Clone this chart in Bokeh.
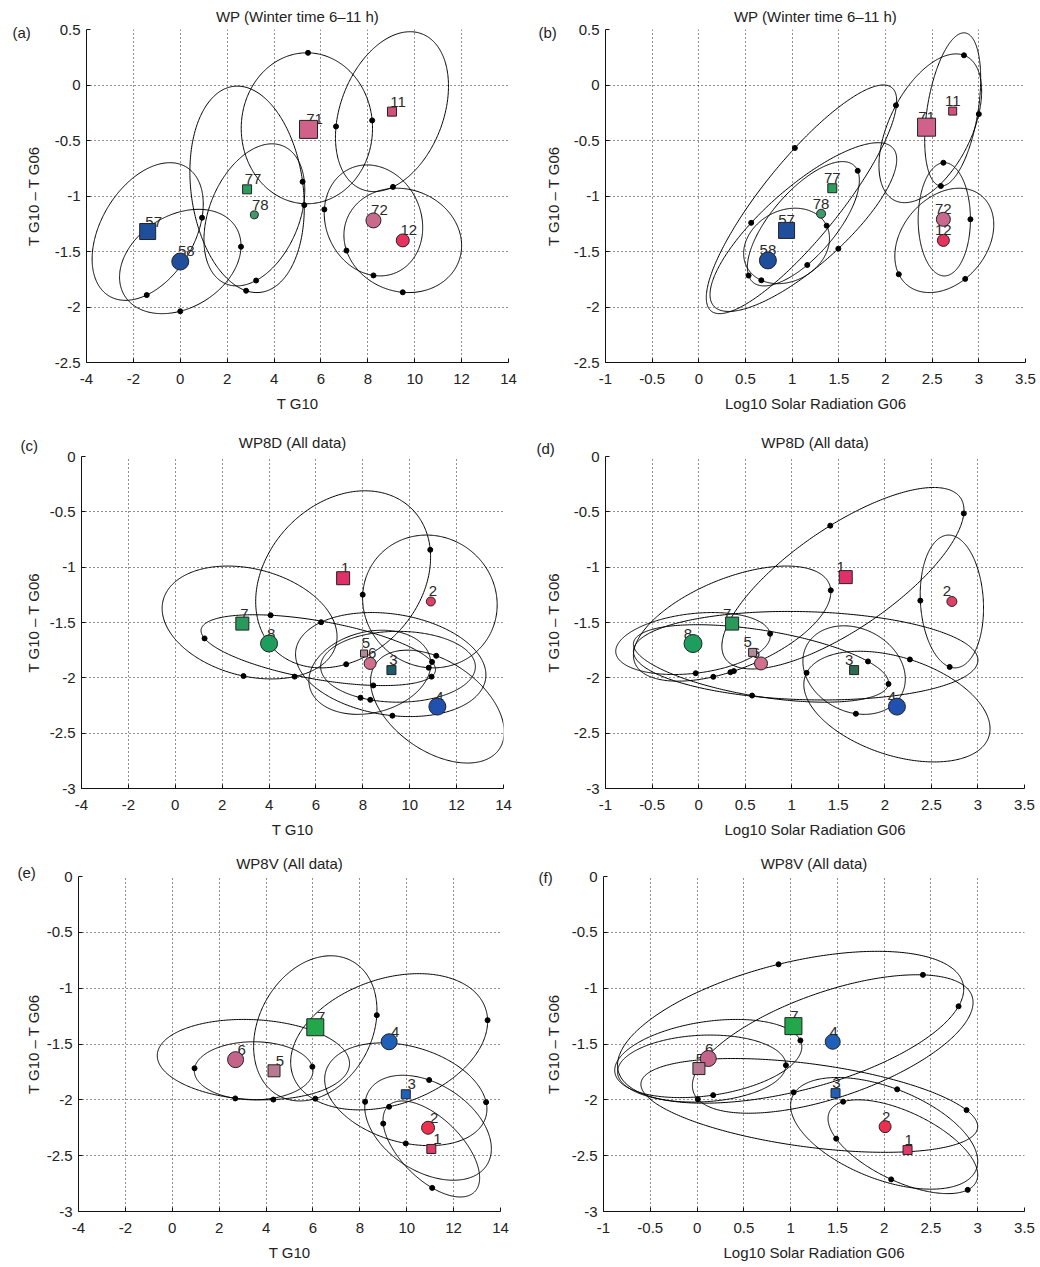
import numpy as np
from bokeh.plotting import figure
from bokeh.layouts import column, row
from bokeh.models import Label, FixedTicker, NumeralTickFormatter, Range1d
from bokeh.embed import file_html
from bokeh.resources import INLINE
from bokeh.core.properties import value

FONT = "Liberation Sans"

# ---------------- tick values ----------------
XT_T = [-4, -2, 0, 2, 4, 6, 8, 10, 12, 14]
XT_S = [-1, -0.5, 0, 0.5, 1, 1.5, 2, 2.5, 3, 3.5]
YT_WP = [-2.5, -2, -1.5, -1, -0.5, 0, 0.5]
YT_8 = [-3, -2.5, -2, -1.5, -1, -0.5, 0]

# ---------------- panel (a) ----------------
a_lab = ["57", "58", "77", "78", "71", "11", "72", "12"]
a_x = [-1.39, 0.0, 2.85, 3.16, 5.47, 9.03, 8.24, 9.49]
a_y = [-1.32, -1.59, -0.94, -1.17, -0.40, -0.24, -1.22, -1.40]
a_ecx = [-1.39, 0.0, 2.85, 3.16, 5.40, 9.03, 8.24, 9.49]
a_ecy = [-1.32, -1.59, -0.94, -1.17, -0.39, -0.24, -1.22, -1.40]
a_erx = [2.37, 2.59, 2.44, 2.15, 2.80, 2.41, 2.10, 2.51]
a_ery = [0.62, 0.47, 0.93, 0.64, 0.68, 0.72, 0.50, 0.47]
a_erho = [0.40, 0.30, -0.17, 0.35, 0.0, 0.32, -0.13, -0.10]
a_dx = [-1.34, 0.01, 0.96, 2.59, 2.79, 3.22, 5.19, 5.29, 5.46, 6.61, 8.36, 6.11, 6.99, 8.22, 9.07, 9.49]
a_dy = [-1.93, -2.05, -1.20, -1.46, -1.86, -1.75, -0.88, -1.09, 0.28, -0.37, -0.32, -1.12, -1.50, -1.72, -0.92, -1.87]

# ---------------- panel (b) ----------------
b_lab = ["57", "58", "77", "78", "71", "11", "72", "12"]
b_x = [0.94, 0.74, 1.43, 1.31, 2.44, 2.72, 2.62, 2.62]
b_y = [-1.31, -1.58, -0.93, -1.16, -0.38, -0.235, -1.21, -1.40]
b_ecx = [1.10, 1.12, 1.12, 0.94, 2.48, 2.72, 2.63, 2.63]
b_ecy = [-1.03, -1.28, -1.25, -1.45, -0.39, -0.22, -1.21, -1.40]
b_erx = [1.02, 1.00, 0.60, 0.46, 0.55, 0.30, 0.28, 0.53]
b_ery = [1.03, 0.76, 0.56, 0.34, 0.67, 0.69, 0.51, 0.47]
b_erho = [0.86, 0.80, 0.70, 0.20, 0.50, 0.40, 0.0, 0.30]
b_dx = [0.98, 2.09, 0.56, 0.51, 0.66, 1.18, 1.38, 1.52, 1.68, 2.83, 3.01, 2.62, 2.59, 2.92, 2.15, 2.87]
b_dy = [-0.52, -0.18, -1.23, -1.72, -1.77, -1.64, -1.26, -1.49, -0.78, 0.25, -0.27, -0.71, -0.93, -1.21, -1.70, -1.76]

# ---------------- panel (c) ----------------
c_lab = ["1", "2", "7", "8", "5", "6", "3", "4"]
c_x = [7.16, 10.90, 2.86, 4.00, 8.05, 8.31, 9.22, 11.18]
c_y = [-1.10, -1.31, -1.51, -1.69, -1.78, -1.87, -1.93, -2.26]
c_ecx = [7.16, 10.86, 3.17, 6.10, 9.19, 8.30, 9.50, 11.18]
c_ecy = [-1.11, -1.31, -1.50, -1.75, -1.88, -1.95, -1.90, -2.26]
c_erx = [3.73, 2.87, 3.73, 5.00, 4.06, 2.60, 3.30, 2.85]
c_ery = [0.80, 0.60, 0.51, 0.32, 0.47, 0.38, 0.32, 0.51]
c_erho = [0.25, -0.05, -0.25, -0.55, -0.20, 0.20, 0.0, -0.45]
c_dx = [10.90, 7.91, 4.04, 6.27, 1.08, 2.83, 7.24, 5.13, 7.95, 8.34, 8.45, 9.26, 10.83, 10.97, 11.01, 11.23]
c_dy = [-0.84, -1.25, -1.41, -1.52, -1.67, -2.03, -1.83, -2.01, -2.13, -2.20, -2.08, -2.35, -1.90, -2.00, -1.85, -1.76]

# ---------------- panel (d) ----------------
d_lab = ["1", "2", "7", "8", "5", "6", "3", "4"]
d_x = [1.58, 2.72, 0.36, -0.06, 0.58, 0.67, 1.67, 2.13]
d_y = [-1.09, -1.31, -1.51, -1.69, -1.77, -1.87, -1.93, -2.26]
d_ecx = [1.55, 2.72, 0.36, -0.06, 1.15, 0.67, 1.67, 2.13]
d_ecy = [-1.10, -1.31, -1.51, -1.69, -1.80, -1.87, -1.93, -2.26]
d_erx = [1.30, 0.34, 1.06, 0.83, 1.85, 1.37, 0.55, 1.00]
d_ery = [0.82, 0.60, 0.52, 0.28, 0.40, 0.35, 0.40, 0.50]
d_erho = [0.75, -0.10, 0.55, 0.25, -0.10, -0.50, -0.20, -0.40]
d_dx = [1.36, 2.95, 1.40, 2.38, 0.77, 2.69, -0.03, 0.38, 0.35, 0.15, 1.17, 1.84, 1.99, 2.27, 1.69, 0.59]
d_dy = [-0.55, -0.52, -1.21, -1.30, -1.60, -1.91, -1.94, -1.94, -1.99, -1.99, -1.96, -1.83, -2.05, -1.83, -2.34, -2.14]

# ---------------- panel (e) ----------------
e_lab = ["6", "5", "7", "4", "3", "2", "1"]
e_x = [2.70, 4.34, 6.10, 9.25, 9.96, 10.91, 11.05]
e_y = [-1.64, -1.74, -1.35, -1.48, -1.95, -2.25, -2.44]
e_ecx = [3.46, 3.47, 6.10, 9.25, 9.96, 10.91, 11.05]
e_ecy = [-1.64, -1.74, -1.36, -1.48, -1.95, -2.25, -2.44]
e_erx = [4.10, 2.53, 2.63, 4.20, 3.46, 2.70, 2.06]
e_ery = [0.36, 0.26, 0.65, 0.61, 0.46, 0.47, 0.43]
e_erho = [-0.10, 0.0, 0.25, 0.30, -0.29, -0.40, -0.60]
e_dx = [1.02, 2.70, 4.30, 6.00, 6.07, 8.81, 13.44, 8.21, 9.30, 9.94, 10.94, 13.44, 9.06, 11.03]
e_dy = [-1.72, -1.99, -2.00, -1.70, -1.97, -1.24, -1.29, -2.02, -2.09, -2.41, -1.83, -2.02, -2.21, -2.81]

# ---------------- panel (f) ----------------
f_lab = ["7", "4", "6", "5", "3", "2", "1"]
f_x = [1.03, 1.45, 0.12, 0.02, 1.48, 2.01, 2.25]
f_y = [-1.34, -1.48, -1.63, -1.72, -1.94, -2.24, -2.45]
f_ecx = [1.00, 1.45, 0.12, 0.05, 1.20, 2.00, 2.20]
f_ecy = [-1.35, -1.50, -1.63, -1.72, -2.05, -2.30, -2.42]
f_erx = [1.85, 1.50, 1.00, 0.90, 1.80, 1.00, 0.80]
f_ery = [0.68, 0.62, 0.35, 0.30, 0.42, 0.50, 0.42]
f_erho = [0.50, 0.60, 0.30, 0.10, -0.45, -0.50, -0.60]
f_dx = [0.89, 2.42, 2.85, 1.08, 0.96, 0.18, 0.02, 1.02, 2.14, 1.57, 2.89, 1.44, 2.10, 2.89]
f_dy = [-0.85, -0.88, -1.19, -1.48, -1.69, -1.97, -1.99, -1.90, -1.90, -2.05, -2.09, -2.38, -2.68, -2.80]

# ---------------- styles (not data) ----------------
BLUE = "#1f4e9c"
a_style = dict(shape=["square", "circle", "square", "circle", "square", "square", "circle", "circle"],
               color=[BLUE, BLUE, "#2e9b5f", "#3f9a6a", "#d0628a", "#d4507a", "#c86a8e", "#e8325e"],
               size=[16, 17, 9, 8, 18, 9, 15, 13])
b_style = dict(shape=a_style["shape"], color=a_style["color"],
               size=[16, 17, 9, 9, 18, 8, 14, 12])
c_style = dict(shape=["square", "circle", "square", "circle", "square", "circle", "square", "circle"],
               color=["#e0306a", "#e04068", "#2a9a5c", "#1e9e5e", "#b08a98", "#d0708e", "#1e5c6a", "#2050b0"],
               size=[13, 9, 13, 17, 7, 12, 9, 17])
d_style = dict(shape=c_style["shape"],
               color=["#e0306a", "#e04068", "#2a9a5c", "#1e9e5e", "#b08a98", "#d0708e", "#2e6a50", "#2050b0"],
               size=[13, 10, 13, 18, 8, 13, 9, 17])
e_style = dict(shape=["circle", "square", "square", "circle", "square", "circle", "square"],
               color=["#c4648a", "#b87a90", "#22a84a", "#2060b8", "#2060b8", "#ee3050", "#e03a6a"],
               size=[16, 12, 17, 16, 9, 13, 9])
f_style = dict(shape=["square", "circle", "circle", "square", "square", "circle", "square"],
               color=["#22a84a", "#2060b8", "#c4648a", "#b87a90", "#2060b8", "#ee3050", "#e03a6a"],
               size=[17, 15, 16, 12, 9, 12, 9])


def ellipse_curve(cx, cy, rx, ry, rho):
    t = np.linspace(0, 2 * np.pi, 361)
    phi = np.arccos(rho)
    return cx + rx * np.cos(t), cy + ry * np.cos(t - phi)


def make_panel(tag, title, xlabel, xr, yr, xt, yt, geom, lab, mx, my, ecx, ecy, erx, ery, erho,
               dx, dy, style, lab_dx, tag_pos, title_standoff):
    bl, fw, br, bt, fh, bb = geom
    p = figure(frame_width=fw, frame_height=fh, min_border_left=bl, min_border_right=br,
               min_border_top=bt, min_border_bottom=bb, x_range=Range1d(*xr), y_range=Range1d(*yr),
               output_backend="svg", toolbar_location=None, title=title)
    p.outline_line_color = None
    p.background_fill_color = "white"
    p.border_fill_color = "white"
    p.title.align = "center"
    p.title.text_font = FONT
    p.title.text_font_size = "15px"
    p.title.text_font_style = "normal"
    p.title.text_color = "#222222"
    p.title.standoff = title_standoff

    for ax, ticks in ((p.xaxis[0], xt), (p.yaxis[0], yt)):
        ax.ticker = FixedTicker(ticks=ticks)
        ax.formatter = NumeralTickFormatter(format="0.[0]")
        ax.major_tick_in = 4
        ax.major_tick_out = 0
        ax.minor_tick_line_color = None
        ax.axis_line_color = "#111111"
        ax.major_tick_line_color = "#111111"
        ax.major_label_text_font = FONT
        ax.major_label_text_font_size = "15px"
        ax.major_label_text_color = "#222222"
        ax.axis_label_text_font = FONT
        ax.axis_label_text_font_size = "15px"
        ax.axis_label_text_font_style = "normal"
        ax.axis_label_text_color = "#222222"
    p.xaxis.axis_label = xlabel
    p.yaxis.axis_label = "T G10 \u2013 T G06"
    p.xaxis.major_label_standoff = 11
    p.xaxis.axis_label_standoff = 8
    p.yaxis.major_label_standoff = 6
    # the tag panel (~25 px) sits outside the y axis; keep the total within the left border
    p.yaxis.axis_label_standoff = max(bl - 76, 1)

    for g in (p.xgrid[0], p.ygrid[0]):
        g.grid_line_color = "#222222"
        g.grid_line_dash = "1 3"
        g.grid_line_width = 1

    # ellipses
    xs, ys = [], []
    for cx, cy, rx, ry, rho in zip(ecx, ecy, erx, ery, erho):
        ex, ey = ellipse_curve(cx, cy, rx, ry, rho)
        xs.append(ex)
        ys.append(ey)
    p.multi_line(xs, ys, line_color="black", line_width=1)

    # dots snapped onto nearest ellipse (in pixel metric)
    sx = fw / (xr[1] - xr[0])
    sy = fh / (yr[1] - yr[0])
    px, py = [], []
    for x0, y0 in zip(dx, dy):
        best = None
        for ex, ey in zip(xs, ys):
            d2 = ((ex - x0) * sx) ** 2 + ((ey - y0) * sy) ** 2
            i = int(np.argmin(d2))
            if best is None or d2[i] < best[0]:
                best = (d2[i], ex[i], ey[i])
        px.append(best[1])
        py.append(best[2])
    p.scatter(px, py, marker="circle", size=5, fill_color="black", line_color="black")

    # number labels (under markers)
    p.text(mx, my, text=lab, x_offset=lab_dx, y_offset=-10, text_align="center",
           text_baseline="alphabetic", text_font=value(FONT), text_font_size="15px",
           text_color="#2a2a2a")

    # markers
    p.scatter(mx, my, marker=style["shape"], size=style["size"], fill_color=style["color"],
              line_color="#222222", line_width=1)

    # panel tag in a side panel so that it is not clipped to the frame
    tx, ty = tag_pos
    p.add_layout(Label(x=xr[0] + tx / sx, y=yr[1] + ty / sy, x_units="data", y_units="data",
                       text=tag, text_align="left", text_baseline="middle", text_font=FONT,
                       text_font_size="15px", text_color="#222222"), "left")
    return p


pa = make_panel("(a)", "WP (Winter time 6\u201311 h)", "T G10", (-4, 14), (-2.5, 0.5), XT_T, YT_WP,
                (86, 422, 12, 29, 333, 58), a_lab, a_x, a_y, a_ecx, a_ecy, a_erx, a_ery, a_erho,
                a_dx, a_dy, a_style, 6, (-74, -3), 10)
pb = make_panel("(b)", "WP (Winter time 6\u201311 h)", "Log10 Solar Radiation G06", (-1, 3.5), (-2.5, 0.5),
                XT_S, YT_WP, (85, 420, 15, 29, 333, 58), b_lab, b_x, b_y, b_ecx, b_ecy, b_erx, b_ery,
                b_erho, b_dx, b_dy, b_style, 0, (-67, -3), 10)
pc = make_panel("(c)", "WP8D (All data)", "T G10", (-4, 14), (-3, 0), XT_T, YT_8,
                (81, 422, 17, 36, 332, 56), c_lab, c_x, c_y, c_ecx, c_ecy, c_erx, c_ery, c_erho,
                c_dx, c_dy, c_style, 2, (-61, 11), 12)
pd_ = make_panel("(d)", "WP8D (All data)", "Log10 Solar Radiation G06", (-1, 3.5), (-3, 0), XT_S, YT_8,
                 (85, 419, 16, 36, 332, 56), d_lab, d_x, d_y, d_ecx, d_ecy, d_erx, d_ery, d_erho,
                 d_dx, d_dy, d_style, -5, (-69, 8), 12)
pe = make_panel("(e)", "WP8V (All data)", "T G10", (-4, 14), (-3, 0), XT_T, YT_8,
                (78, 422, 20, 32, 335, 56), e_lab, e_x, e_y, e_ecx, e_ecy, e_erx, e_ery, e_erho,
                e_dx, e_dy, e_style, 6, (-61, 4), 9)
pf = make_panel("(f)", "WP8V (All data)", "Log10 Solar Radiation G06", (-1, 3.5), (-3, 0), XT_S, YT_8,
                (83, 421, 16, 32, 335, 56), f_lab, f_x, f_y, f_ecx, f_ecy, f_erx, f_ery, f_erho,
                f_dx, f_dy, f_style, 1, (-65, -1), 9)

layout = column(row(pa, pb), row(pc, pd_), row(pe, pf))
open("out.html", "w").write(file_html(layout, INLINE))
